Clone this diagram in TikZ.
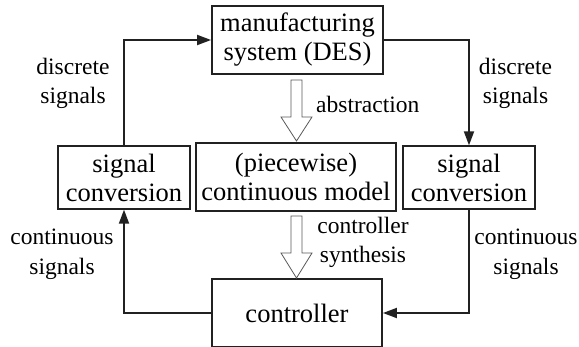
\documentclass[tikz,border=0pt]{standalone}
\usepackage{fontspec}
\setmainfont{Liberation Serif}
\usetikzlibrary{arrows.meta}
\begin{document}
\begin{tikzpicture}[x=1pt,y=-1pt,
  box/.style={draw=black!87, line width=1.8pt, inner sep=0pt, align=center, font=\fontsize{26.5}{29}\selectfont},
  lbl/.style={inner sep=0pt, align=center, font=\fontsize{23.5}{29.5}\selectfont},
  conn/.style={draw=black!87, line width=1.8pt, -{Triangle[length=14pt,width=10pt]}},
  hollow/.style={draw=black!65, line width=0.8pt, fill=white, line join=miter}]
\useasboundingbox (0,0) rectangle (579,346);
\clip (0,0) rectangle (579,346);
\node[box, minimum width=171pt, minimum height=68pt] (mfg) at (297.5,40) {manufacturing\\system (DES)};
\node[box, minimum width=132pt, minimum height=62.5pt] (lsc) at (124,177.5) {signal\\conversion};
\node[box, minimum width=200pt, minimum height=68pt] (mdl) at (296,177) {(piecewise)\\continuous model};
\node[box, minimum width=132pt, minimum height=62.5pt] (rsc) at (469,177.5) {signal\\conversion};
\node[box, minimum width=170pt, minimum height=68pt] (ctrl) at (297,313) {controller};
\draw[conn] (lsc.north) |- (mfg.west);
\draw[conn] (mfg.east) -| (rsc.north);
\draw[conn] (ctrl.west) -| (lsc.south);
\draw[conn] (rsc.south) |- (ctrl.east);
\draw[hollow] (291,80) -- (302,80) -- (302,117) -- (312,117) -- (296.5,141) -- (281,117) -- (291,117) -- cycle;
\draw[hollow] (291,216) -- (302,216) -- (302,253) -- (312,253) -- (296.5,278) -- (281,253) -- (291,253) -- cycle;
\node[lbl] (l1) at (73,83.3) {discrete\\signals};
\node[lbl] (l2) at (515.5,83.3) {discrete\\signals};
\node[lbl, anchor=west] (l3) at (316,104) {abstraction};
\node[lbl] (l4) at (363,242.3) {controller\\synthesis};
\node[lbl] (l5) at (62,254.5) {continuous\\signals};
\node[lbl] (l6) at (526,254.5) {continuous\\signals};
\end{tikzpicture}
\end{document}
